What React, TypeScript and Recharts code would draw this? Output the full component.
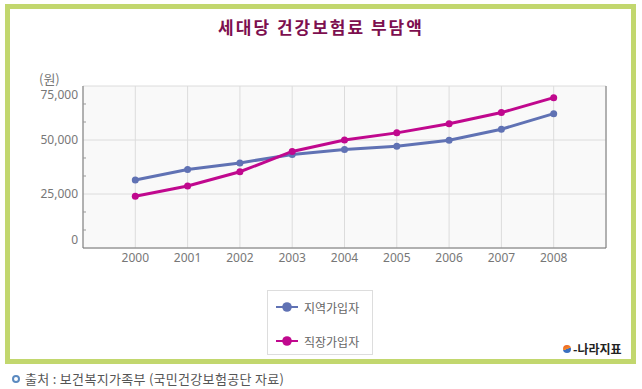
import React from 'react';
import { LineChart, Line, XAxis, YAxis, CartesianGrid } from 'recharts';

const years = [2000, 2001, 2002, 2003, 2004, 2005, 2006, 2007, 2008];
const regional = [31500, 36300, 39400, 43300, 45600, 47100, 49900, 55000, 62200];
const employee = [24000, 28700, 35300, 44700, 50000, 53300, 57500, 62700, 69600];
const yMajorTicks = [0, 25000, 50000, 75000];
const yAllTicks = [0, 8333, 16667, 25000, 33333, 41667, 50000, 58333, 66667, 75000];

const seriesList = [
  { key: 'regional', name: '지역가입자', color: '#6072b4' },
  { key: 'employee', name: '직장가입자', color: '#c0088e' },
];

const chartData = years.map((year, i) => ({
  year,
  regional: regional[i],
  employee: employee[i],
}));

const numFont = '"Noto Sans", sans-serif';
const krFont = '"Noto Sans CJK KR", sans-serif';

const LeftTick = (props: any) => {
  const { x, y, payload } = props;
  const v = payload.value;
  if (!yMajorTicks.includes(v)) {
    return <line x1={x} x2={x + 3} y1={y} y2={y} stroke="#999" />;
  }
  // end labels sit inside the plot range
  let shift = 0;
  if (v === 0) shift = -8;
  if (v === 75000) shift = 9;
  return (
    <text x={x - 5} y={y + shift} dy="0.35em" textAnchor="end" fontSize={12} fill="#777" fontFamily={numFont}>
      {v.toLocaleString('en-US')}
    </text>
  );
};

const RightTick = (props: any) => {
  const { x, y, payload } = props;
  const major = yMajorTicks.includes(payload.value);
  if (payload.value === 0 || payload.value === 75000) return null;
  return <line x1={x} x2={x - (major ? 6 : 3)} y1={y} y2={y} stroke={major ? '#777' : '#999'} />;
};

export default function App() {
  return (
    <div style={{ position: 'absolute', left: 0, top: 0, width: 642, height: 389, background: '#fff', overflow: 'hidden' }}>
      <div
        style={{
          position: 'absolute', left: 5, top: 4, width: 631, height: 360,
          boxSizing: 'border-box', border: '5px solid #c2d76e',
        }}
      />
      <div
        style={{
          position: 'absolute', left: 0, top: 14, width: 642, textAlign: 'center',
          fontFamily: krFont, fontSize: 17, fontWeight: 700, letterSpacing: 2, color: '#7d0f4f',
        }}
      >
        세대당 건강보험료 부담액
      </div>
      <div style={{ position: 'absolute', left: 39, top: 69, fontFamily: krFont, fontSize: 13, color: '#777' }}>(원)</div>

      <div style={{ position: 'absolute', left: 0, top: 0 }}>
        <LineChart width={642} height={389} data={chartData} margin={{ top: 86, right: 0, left: 0, bottom: 111 }}>
          <CartesianGrid
            fill="#f9f9f9"
            stroke="#dcdcdc"
            horizontalValues={yMajorTicks}
            xAxisId="b"
            yAxisId="l"
          />
          <XAxis
            xAxisId="b"
            dataKey="year"
            type="number"
            domain={[1999, 2009]}
            ticks={years}
            height={30}
            tickLine={false}
            tickSize={0}
            tickMargin={5}
            axisLine={{ stroke: '#777' }}
            tick={{ fontSize: 12, fill: '#777', fontFamily: numFont }}
          />
          <XAxis
            xAxisId="t"
            orientation="top"
            dataKey="year"
            type="number"
            domain={[1999, 2009]}
            height={0}
            tick={false}
            tickLine={false}
            axisLine={{ stroke: '#777' }}
          />
          <YAxis
            yAxisId="l"
            domain={[0, 75000]}
            ticks={yAllTicks}
            width={83}
            tickSize={0}
            tickMargin={0}
            tickLine={false}
            axisLine={{ stroke: '#777' }}
            tick={<LeftTick />}
            interval={0}
          />
          <YAxis
            yAxisId="r"
            orientation="right"
            domain={[0, 75000]}
            ticks={yAllTicks}
            width={36}
            tickSize={0}
            tickMargin={0}
            tickLine={false}
            axisLine={{ stroke: '#777' }}
            tick={<RightTick />}
            interval={0}
          />
          {seriesList.map((s) => (
            <Line
              key={s.key}
              xAxisId="b"
              yAxisId="l"
              type="linear"
              dataKey={s.key}
              name={s.name}
              stroke={s.color}
              strokeWidth={3}
              dot={{ r: 3.5, fill: s.color, stroke: s.color, strokeWidth: 0 }}
              isAnimationActive={false}
            />
          ))}
        </LineChart>
      </div>

      <div
        style={{
          position: 'absolute', left: 267, top: 290, width: 106, height: 65,
          boxSizing: 'border-box', border: '1px solid #ddd', background: '#fff',
        }}
      >
        {seriesList.map((s, i) => (
          <div
            key={s.key}
            style={{ position: 'absolute', left: 8, top: 7 + i * 34, height: 18, display: 'flex', alignItems: 'center' }}
          >
            <svg width={22} height={12} style={{ display: 'block' }}>
              <line x1={0} x2={22} y1={6} y2={6} stroke={s.color} strokeWidth={2} />
              <circle cx={11} cy={6} r={4.8} fill={s.color} />
            </svg>
            <span style={{ marginLeft: 6, fontFamily: krFont, fontSize: 12, color: '#666' }}>{s.name}</span>
          </div>
        ))}
      </div>

      <div style={{ position: 'absolute', left: 563, top: 340, display: 'flex', alignItems: 'center' }}>
        <div
          style={{
            width: 8, height: 8, borderRadius: '50%',
            background: 'linear-gradient(160deg, #f05a1a 0%, #f08a30 50%, #3a6fc0 51%, #3a6fc0 100%)',
          }}
        />
        <span style={{ marginLeft: 2, fontFamily: krFont, fontSize: 12, fontWeight: 700, color: '#222' }}>-나라지표</span>
      </div>

      <div style={{ position: 'absolute', left: 12, top: 369, display: 'flex', alignItems: 'center' }}>
        <div
          style={{
            width: 4, height: 4, borderRadius: '50%', border: '2px solid #5b8ac0', background: '#fff',
          }}
        />
        <span style={{ marginLeft: 5, fontFamily: krFont, fontSize: 13, letterSpacing: 0.3, color: '#555' }}>
          출처 : 보건복지가족부 (국민건강보험공단 자료)
        </span>
      </div>
    </div>
  );
}
